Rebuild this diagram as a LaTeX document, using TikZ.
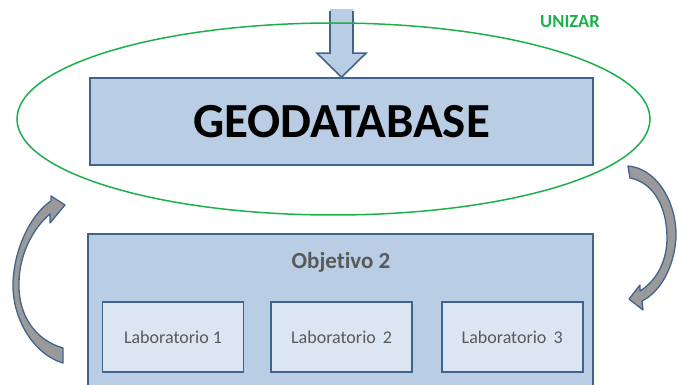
\documentclass[tikz,border=0pt]{standalone}
\usepackage{fontspec}
\setmainfont[Ligatures=NoCommon]{Carlito}
\usetikzlibrary{positioning,calc}
\definecolor{azulcaja}{HTML}{B9CDE5}
\definecolor{azulclaro}{HTML}{DCE6F2}
\definecolor{borde}{HTML}{41648F}
\definecolor{verde}{HTML}{1DB04A}
\definecolor{gristexto}{HTML}{595959}
\definecolor{grisflecha}{HTML}{9A9A9A}

\begin{document}
\begin{tikzpicture}[x=1pt,y=-1pt,
    caja/.style={draw=borde,fill=azulcaja,line width=1.6pt,inner sep=0pt},
    lab/.style={draw=borde,fill=azulclaro,line width=1.6pt,minimum width=141pt,minimum height=70pt,
      text=gristexto,font=\fontsize{18}{21}\selectfont},
    curva/.style={draw=borde,fill=grisflecha,line width=1.3pt,line join=round}]
            \useasboundingbox (0,0) rectangle (678,385);
            \clip (0,0) rectangle (678,385);
            % geodatabase
            \node (geo) [caja,minimum width=503pt,minimum height=87pt,
              font=\fontsize{49}{52}\selectfont\bfseries] at (341.5,121.5) {GEODATABASE};
            \coordinate (punta) at (geo.north);
            \fill[azulcaja] (punta) -- ++(-24.5,-24) -- ++(13,0) -- ++(0,-44) -- ++(23,0) -- ++(0,44) -- ++(13,0) -- cycle;
            \draw[borde,line width=1.6pt] ($(punta)+(-11.5,-66)$) -- ++(0,42) -- ++(-13,0) -- (punta)
              -- ++(24.5,-24) -- ++(-13,0) -- ++(0,-42);
            \draw[verde,line width=1.5pt] (333.5,119) ellipse [x radius=316.5pt,y radius=96pt];
            \node (unizar) [text=verde,font=\fontsize{18.5}{21}\selectfont\bfseries] at (570,22) {UNIZAR};
            % objetivo 2
            \node (obj) [caja,minimum width=505pt,minimum height=165pt,anchor=north] at (340.5,233) {};
            \node (titulo) [text=gristexto,font=\fontsize{23}{26}\selectfont\bfseries] at (341,262) {Objetivo 2};
            \node (lab1) [lab] at (173,337) {Laboratorio 1};
            \node (lab2) [lab,right=26pt of lab1] {Laboratorio~\,2};
            \node (lab3) [lab,right=28pt of lab2] {Laboratorio~\,3};
            % flechas curvas
            \draw[curva] (63,363) .. controls (35,355) and (12,320) .. (13,283)
              .. controls (14,250) and (30,215) .. (51,201) -- (51,196) -- (65,205) -- (50,223)
              -- (50,214) .. controls (33,228) and (19,255) .. (19,283)
              .. controls (18,315) and (35,340) .. (63,348) -- cycle;
            \draw[curva] (628,166) .. controls (655,168) and (677,200) .. (676,238)
              .. controls (674,268) and (660,292) .. (642,301) -- (643,310) -- (629,299) -- (640,285)
              -- (640,291) .. controls (656,281) and (667,262) .. (667,238)
              .. controls (667,205) and (652,182) .. (630,178) -- cycle;
        \end{tikzpicture}
\end{document}
